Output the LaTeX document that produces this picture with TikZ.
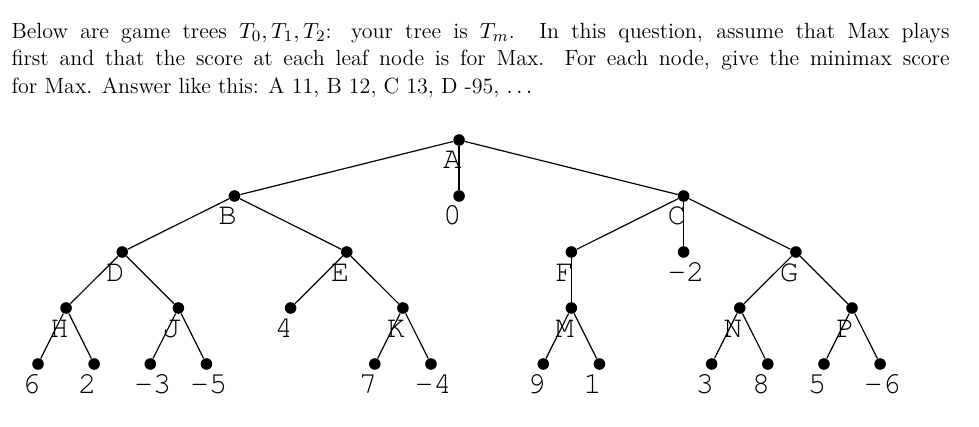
\documentclass[tikz,border=0pt]{standalone}
\usepackage{fontspec}
\newfontfamily\cursorfont{TeX Gyre Cursor}
\usepackage{tikz}
\tikzset{
  dot/.style={circle,fill=black,inner sep=0pt,minimum size=5.8pt},
  tag/.style={anchor=base west,inner sep=0pt,xshift=-8.2pt,yshift=-14.5pt,%
    font=\fontsize{15.4}{18}\selectfont\cursorfont},
  branch/.style={line width=0.6pt},
  question/.style={anchor=north west,inner sep=0pt,text width=469pt,align=justify,%
    font=\fontsize{11}{13.65}\selectfont},
}

\begin{document}
\begin{tikzpicture}
\useasboundingbox (0,0) rectangle (489.5pt,-213.5pt);
\node[question] (text) at (5.6pt,-11.4pt) {Below are game trees $T_0,T_1,T_2$: your tree is $T_m$. In this question, assume that Max plays\linebreak first and that the score at each leaf node is for Max. For each node, give the minimax score\linebreak for Max. Answer like this: A 11, B 12, C 13, D -95, $\ldots$};
\begin{scope}[x=28.07pt,y=-28pt,shift={(19pt,-70pt)}]
% nodes: name/x/level/text
\foreach \name/\x/\y/\txt in {A/7.5/0/A,B/3.5/1/B,a0/7.5/1/0,C/11.5/1/C,%
    D/1.5/2/D,E/5.5/2/E,F/9.5/2/F,c2/11.5/2/-2,G/13.5/2/G,%
    H/0.5/3/H,J/2.5/3/J,e4/4.5/3/4,K/6.5/3/K,M/9.5/3/M,N/12.5/3/N,P/14.5/3/P,%
    h1/0/4/6,h2/1/4/2,j1/2/4/-3,j2/3/4/-5,k1/6/4/7,k2/7/4/-4,%
    m1/9/4/9,m2/10/4/1,n1/12/4/3,n2/13/4/8,p1/14/4/5,p2/15/4/-6}
{
  \node[dot] (\name) at (\x,\y) {};
  \node[tag] (\name-tag) at (\name) {\txt};
}
% branches
\foreach \p/\c in {A/B,A/a0,A/C,B/D,B/E,C/F,C/c2,C/G,D/H,D/J,E/e4,E/K,F/M,G/N,G/P,%
    H/h1,H/h2,J/j1,J/j2,K/k1,K/k2,M/m1,M/m2,N/n1,N/n2,P/p1,P/p2}
  \draw[branch] (\p) -- (\c);
\end{scope}
\end{tikzpicture}
\end{document}
